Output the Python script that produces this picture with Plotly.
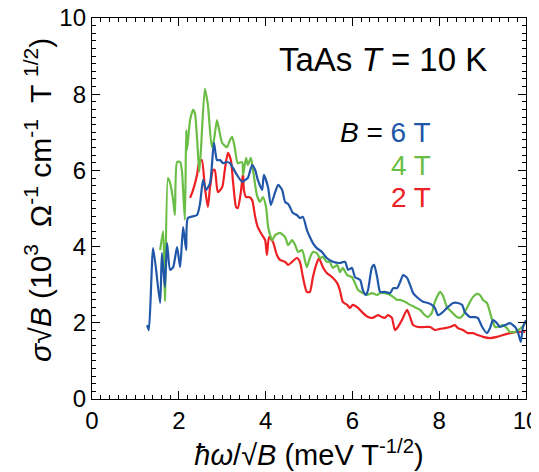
import plotly.graph_objects as go

# B = 6 T (blue)
x6 = [1.27,1.31,1.41,1.57,1.61,1.68,1.73,1.80,1.87,1.96,2.03,2.10,2.17,2.21,2.42,2.49,2.56,2.63,2.72,2.81,
      2.88,2.95,3.02,3.11,3.18,3.25,3.34,3.46,3.53,3.59,3.69,3.76,3.82,3.92,3.96,4.06,4.12,4.22,4.29,4.38,
      4.45,4.52,4.56,4.63,4.72,4.79,4.86,4.95,5.02,5.09,5.18,5.30,5.41,5.55,5.71,5.83,5.90,5.99,6.06,6.18,
      6.24,6.31,6.36,6.45,6.50,6.57,6.64,6.75,6.87,6.94,7.03,7.10,7.17,7.26,7.33,7.40,7.51,7.63,7.74,7.83,
      7.90,7.97,8.06,8.18,8.32,8.43,8.53,8.59,8.71,8.82,8.89,8.99,9.10,9.17,9.24,9.33,9.40,9.52,9.63,9.75,
      9.82,9.88,9.93,10.0]
y6 = [1.94,1.81,3.96,2.52,3.83,2.94,4.09,3.39,3.46,3.99,3.46,4.51,3.91,4.75,4.83,5.14,5.75,5.49,5.67,6.72,
      6.27,6.27,6.19,6.22,6.19,6.06,5.88,5.70,5.75,5.80,6.14,6.01,5.75,5.49,5.88,5.54,5.09,5.43,5.62,5.49,
      5.17,5.12,5.04,4.88,4.83,4.75,4.78,4.44,4.25,4.09,3.96,3.86,3.70,3.60,3.57,3.60,3.39,3.44,3.20,3.12,
      2.86,2.73,2.86,3.46,3.52,3.20,2.81,2.81,2.78,2.91,2.91,3.07,3.25,3.18,2.99,2.78,2.65,2.55,2.52,2.47,
      2.39,2.20,2.26,2.39,2.52,2.52,2.47,2.28,2.15,2.15,2.13,1.89,1.73,1.86,2.07,1.99,1.89,1.94,1.99,1.89,
      1.73,1.50,1.89,2.07]

# B = 4 T (green)
x4 = [1.57,1.64,1.68,1.75,1.80,1.87,1.91,1.96,2.03,2.07,2.14,2.17,2.19,2.26,2.33,2.37,2.42,2.47,2.51,2.60,
      2.67,2.76,2.81,2.88,2.93,3.00,3.11,3.18,3.23,3.29,3.36,3.46,3.48,3.55,3.59,3.66,3.71,3.80,3.87,3.94,
      4.01,4.06,4.15,4.22,4.33,4.45,4.52,4.61,4.68,4.75,4.84,4.95,5.02,5.09,5.18,5.25,5.32,5.41,5.48,5.55,
      5.65,5.71,5.78,5.88,5.99,6.06,6.13,6.24,6.34,6.45,6.57,6.64,6.75,6.87,6.94,7.03,7.10,7.21,7.33,7.44,
      7.56,7.67,7.74,7.83,7.90,8.02,8.09,8.18,8.29,8.41,8.48,8.55,8.64,8.71,8.78,8.87,8.94,9.01,9.10,9.17,
      9.22,9.29,9.35,9.47,9.56,9.63,9.75,9.82,9.91,9.98]
y4 = [3.91,4.41,2.57,5.80,5.67,5.22,4.83,6.22,6.22,6.01,4.70,7.06,6.54,7.32,7.59,7.51,6.85,5.96,6.54,8.14,
      7.72,6.61,6.80,7.32,7.06,6.72,6.61,6.80,6.88,6.59,6.19,6.22,5.88,6.33,6.14,6.33,6.01,5.35,5.17,5.30,
      5.04,4.51,4.17,4.30,4.36,4.25,4.04,4.17,4.04,3.86,3.91,3.46,3.70,3.86,3.83,3.70,3.73,3.60,3.60,3.44,
      3.52,3.33,3.44,3.25,3.20,3.04,2.86,2.78,2.73,2.78,2.73,2.78,2.78,2.73,2.68,2.60,2.60,2.55,2.47,2.41,
      2.34,2.20,2.15,2.26,2.55,2.81,2.70,2.41,2.28,2.15,2.13,2.20,2.39,2.55,2.68,2.76,2.73,2.60,2.52,2.28,
      2.07,1.89,1.89,1.94,1.86,1.76,1.76,1.81,1.89,1.99]

# B = 2 T (red)
x2 = [2.26,2.33,2.42,2.47,2.53,2.60,2.67,2.72,2.79,2.83,2.90,3.00,3.06,3.13,3.20,3.25,3.32,3.36,3.43,3.48,
      3.50,3.55,3.62,3.69,3.76,3.82,3.92,3.99,4.03,4.08,4.17,4.26,4.33,4.45,4.52,4.61,4.72,4.79,4.86,4.95,
      5.02,5.09,5.18,5.23,5.32,5.41,5.53,5.65,5.71,5.78,5.88,5.94,6.01,6.13,6.24,6.36,6.47,6.59,6.68,6.75,
      6.82,6.91,6.98,7.05,7.14,7.26,7.33,7.40,7.51,7.67,7.79,7.90,8.02,8.13,8.25,8.36,8.43,8.55,8.66,8.78,
      8.89,9.01,9.17,9.33,9.47,9.63,9.79,9.98]
y2 = [5.28,5.49,5.88,6.22,6.27,5.56,5.04,5.56,6.01,6.01,5.43,5.56,6.01,6.46,6.27,5.70,5.04,5.01,5.43,5.93,
      5.49,5.30,5.30,5.22,4.78,4.51,4.30,4.17,3.78,4.25,4.12,3.78,3.65,3.60,3.52,3.60,3.70,3.60,3.20,2.81,
      2.81,3.20,3.57,3.70,3.46,3.31,3.20,3.04,2.86,2.55,2.47,2.39,2.47,2.39,2.26,2.15,2.13,2.20,2.15,2.13,
      2.20,2.13,1.81,1.89,2.07,2.34,2.15,1.94,1.89,1.89,1.89,1.81,1.84,1.86,1.89,1.94,1.86,1.81,1.73,1.73,
      1.68,1.63,1.60,1.63,1.68,1.73,1.76,1.76]

x_ticks = [0, 2, 4, 6, 8, 10]
y_ticks = [0, 2, 4, 6, 8, 10]

BLUE = "rgb(33,87,168)"
GREEN = "rgb(107,190,69)"
RED = "rgb(237,32,36)"
FONT = "Liberation Sans, Arial, sans-serif"

fig = go.Figure()
for xs, ys, col in [(x2, y2, RED), (x4, y4, GREEN), (x6, y6, BLUE)]:
    fig.add_trace(go.Scatter(x=xs, y=ys, mode="lines",
                             line=dict(color=col, width=2.2, shape="spline", smoothing=0.6),
                             showlegend=False, hoverinfo="skip"))

axis_common = dict(
    showline=True, linecolor="black", linewidth=1.3, mirror="ticks",
    ticks="inside", ticklen=8, tickwidth=1.3, tickcolor="black",
    showgrid=False, zeroline=False, automargin=False, ticklabeloverflow="allow",
    tickfont=dict(family=FONT, size=24, color="black"),
    minor=dict(dtick=0.2, ticks="inside", ticklen=4, tickwidth=1, tickcolor="black", showgrid=False),
)

fig.update_xaxes(range=[0, 10], tickmode="array", tickvals=x_ticks, ticktext=[str(v) for v in x_ticks],
                 title=dict(text="<i>ħω</i>/√<i>B</i> (meV T<sup>-1/2</sup>)",
                            font=dict(family=FONT, size=29, color="black"), standoff=11),
                 **axis_common)
fig.update_yaxes(range=[0, 10], tickmode="array", tickvals=y_ticks, ticktext=[str(v) for v in y_ticks],
                 **axis_common)

# y-axis title placed as a rotated annotation for exact positioning
fig.add_annotation(x=-0.124, y=0.523, xref="paper", yref="paper", xanchor="center", yanchor="middle",
                   textangle=-90, showarrow=False,
                   text="<i>σ</i>√<i>B</i> (10<sup>3</sup>  Ω<sup>-1</sup> cm<sup>-1</sup>  T <sup>1/2</sup>)",
                   font=dict(family=FONT, size=30, color="black"))

fig.add_annotation(x=9.14, y=8.9, xref="x", yref="y", xanchor="right", yanchor="middle",
                   text="TaAs <i>T</i> = 10 K", showarrow=False,
                   font=dict(family=FONT, size=33, color="black"))
fig.add_annotation(x=7.86, y=6.99, xref="x", yref="y", xanchor="right", yanchor="middle",
                   text=f"<i>B</i> = <span style='color:{BLUE}'>6 T</span>", showarrow=False,
                   font=dict(family=FONT, size=28, color="black"))
fig.add_annotation(x=7.86, y=6.14, xref="x", yref="y", xanchor="right", yanchor="middle",
                   text="4 T", showarrow=False, font=dict(family=FONT, size=28, color=GREEN))
fig.add_annotation(x=7.86, y=5.29, xref="x", yref="y", xanchor="right", yanchor="middle",
                   text="2 T", showarrow=False, font=dict(family=FONT, size=28, color=RED))

# the page body adds an 8px offset; the plot area is placed to match the window,
# and the figure is wide enough that the last x tick label is not clipped by the svg
fig.update_layout(width=539, height=464, margin=dict(l=84, r=21, t=10, b=73),
                  paper_bgcolor="white", plot_bgcolor="white",
                  font=dict(family=FONT, color="black"))

fig.write_html("out.html")
